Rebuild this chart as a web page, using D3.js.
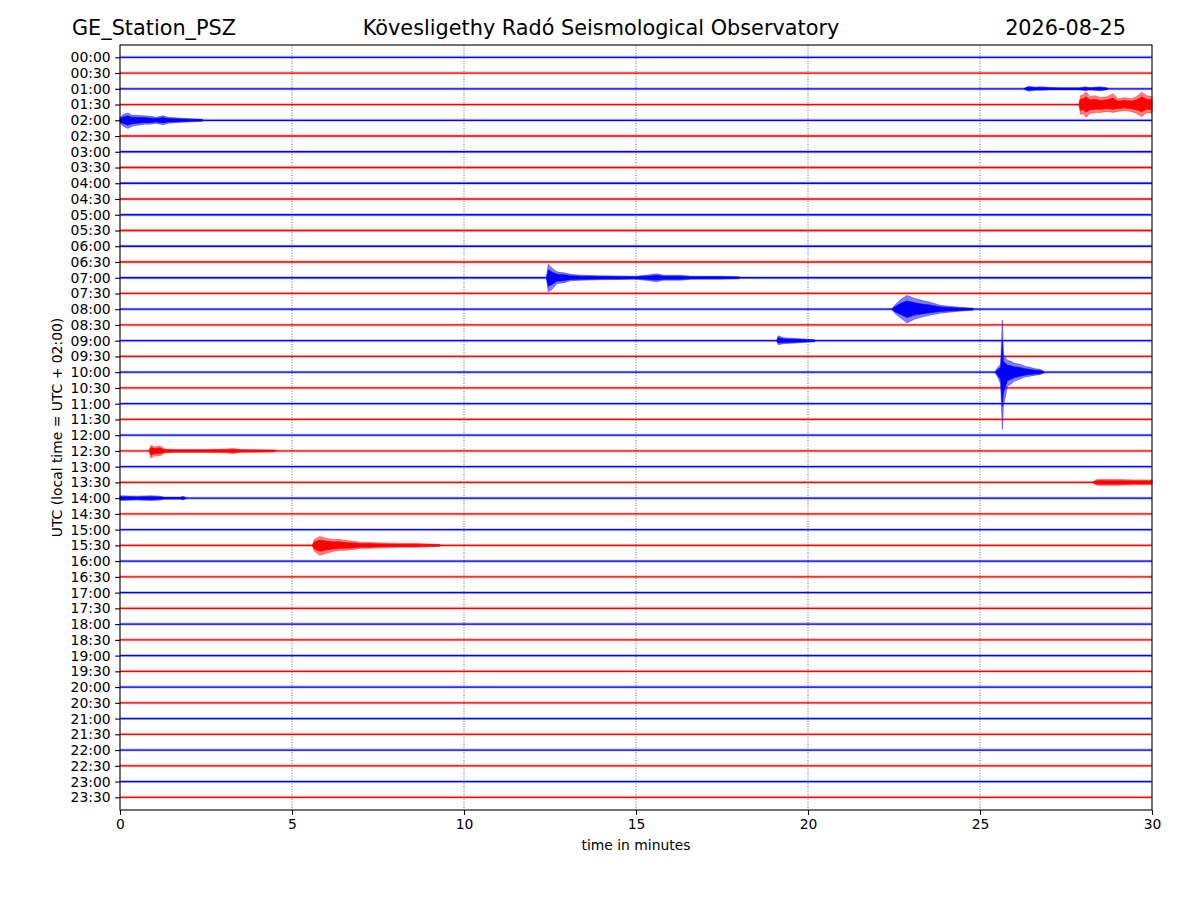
<!DOCTYPE html>
<html>
<head>
<meta charset="utf-8">
<script src="https://cdn.jsdelivr.net/npm/d3@7"></script>
<style>
  body { margin: 0; background: #fff; }
  svg { font-family: "DejaVu Sans", sans-serif; }
</style>
</head>
<body>
<svg id="chart" width="1200" height="900"></svg>
<script>
// Row labels (UTC start of each 30 minute line)
const rowLabels = [
  "00:00", "00:30", "01:00", "01:30", "02:00", "02:30", "03:00", "03:30",
  "04:00", "04:30", "05:00", "05:30", "06:00", "06:30", "07:00", "07:30",
  "08:00", "08:30", "09:00", "09:30", "10:00", "10:30", "11:00", "11:30",
  "12:00", "12:30", "13:00", "13:30", "14:00", "14:30", "15:00", "15:30",
  "16:00", "16:30", "17:00", "17:30", "18:00", "18:30", "19:00", "19:30",
  "20:00", "20:30", "21:00", "21:30", "22:00", "22:30", "23:00", "23:30"
];
const xTicks = [0, 5, 10, 15, 20, 25, 30];
const gridMinutes = [5, 10, 15, 20, 25];
const rowColors = ["#0000ff", "#ff0000"];

// Event envelopes: [minute, amplitude up, amplitude down]
// amplitude in counts, one row spacing = 16 counts
const ev0100 = [[26.3, 0.8, 0.8], [26.4, 2.5, 2.5], [26.6, 1.8, 1.5], [26.8, 2, 1.5], [27.0, 1.5, 1.2], [27.3, 1, 1],
  [27.9, 1, 1], [28.05, 2, 2], [28.2, 1.2, 1.2], [28.5, 2, 2], [28.7, 1, 1]];
const ev0130 = [[27.88, 1, 1], [27.92, 9, 10], [28.0, 10, 9], [28.08, 13, 13], [28.2, 8, 9], [28.35, 9, 8],
  [28.5, 7, 8], [28.7, 8, 7], [28.87, 11, 8], [29.0, 6, 7], [29.2, 7, 6], [29.4, 6, 7], [29.55, 8, 9],
  [29.7, 12.6, 12.4], [29.85, 9, 8], [30, 8, 9]];
const ev0200 = [[0, 3, 3], [0.1, 6, 6], [0.23, 7.3, 8.3], [0.35, 5, 6], [0.5, 5, 5], [0.7, 4.5, 4], [0.87, 4, 4],
  [1.05, 3, 3], [1.25, 4.5, 4.5], [1.4, 3, 3], [1.6, 2.5, 2.5], [1.8, 2, 2], [2.1, 1.5, 1.5], [2.4, 1, 1]];
const ev0700 = [[12.4, 1, 1], [12.45, 13.7, 14.3], [12.55, 10, 12], [12.7, 6, 6], [12.9, 5, 5], [13.1, 3.5, 3],
  [13.4, 2.5, 2.5], [13.95, 2, 2], [14.5, 1.8, 1.8], [15.0, 1.5, 1.5], [15.4, 3, 3], [15.6, 4, 4], [15.8, 2.5, 2.5],
  [16.3, 2.5, 2.5], [16.6, 1.5, 1.5], [17.5, 1.5, 1.5], [18.0, 1, 1]];
const ev0800 = [[22.45, 1, 1], [22.55, 5, 5], [22.7, 10, 9], [22.88, 14, 14], [23.1, 11, 10], [23.3, 9, 8],
  [23.55, 7, 6], [23.84, 4, 4], [24.1, 3, 3], [24.4, 2, 2], [24.8, 1, 1]];
const ev0900 = [[19.1, 1, 1], [19.13, 5, 4], [19.3, 3, 3], [19.77, 2, 2], [20.2, 1, 1]];
const ev1000 = [[25.45, 1, 1], [25.5, 4, 4], [25.6, 8, 12], [25.65, 53, 58], [25.68, 18, 34], [25.8, 12, 14],
  [25.9, 11, 12], [26.0, 9, 9], [26.16, 8, 7], [26.3, 6, 5], [26.45, 5, 4], [26.6, 3.5, 3], [26.74, 3, 2.5], [26.85, 1, 1]];
const ev1230 = [[0.85, 1, 1], [0.9, 5.7, 7.3], [1.0, 4, 5], [1.16, 5, 5], [1.3, 2, 2], [1.6, 1.5, 1.5],
  [2.5, 1.5, 1.5], [3.1, 2, 2], [3.3, 2.5, 2.5], [3.5, 1.5, 1.5], [4.5, 1, 1]];
const ev1330 = [[28.3, 1, 1], [28.4, 3, 3], [29.0, 3, 3], [29.5, 2.5, 2.5], [30, 2.5, 2.5]];
const ev1400 = [[0, 2.5, 2.5], [0.5, 2, 2], [0.9, 2.5, 2.5], [1.16, 2, 2], [1.3, 1, 1], [1.75, 1, 1],
  [1.83, 2, 2], [1.9, 1, 1]];
const ev1530 = [[5.6, 1, 1], [5.65, 6, 6], [5.81, 9, 10], [6.0, 7, 8], [6.2, 6, 6], [6.4, 6, 5], [6.55, 5, 5],
  [6.83, 4, 4], [7.0, 3, 3], [7.27, 3, 3], [7.56, 2.5, 2.5], [8.14, 2, 2], [8.58, 2, 2], [9.3, 1, 1]];

const events = [
  ["01:00", ev0100], ["01:30", ev0130], ["02:00", ev0200], ["07:00", ev0700],
  ["08:00", ev0800], ["09:00", ev0900], ["10:00", ev1000], ["12:30", ev1230],
  ["13:30", ev1330], ["14:00", ev1400], ["15:30", ev1530]
];

const svg = d3.select("#chart");
const plot = { left: 120, right: 1152, top: 45, bottom: 810 };

const x = d3.scaleLinear().domain([0, 30]).range([plot.left, plot.right]);
const y = d3.scalePoint().domain(rowLabels).range([57.3, 797.3]);
const rowStep = y.step();
const amp = d3.scaleLinear().domain([0, 16]).range([0, rowStep]);

// dotted vertical grid
svg.append("g")
  .selectAll("line")
  .data(gridMinutes)
  .join("line")
  .attr("x1", d => x(d)).attr("x2", d => x(d))
  .attr("y1", plot.top).attr("y2", plot.bottom)
  .attr("stroke", "#444")
  .attr("stroke-width", 0.8)
  .attr("stroke-dasharray", "1,1.6");

// traces: baseline noise band + solid core
const traces = svg.append("g");
rowLabels.forEach((lab, i) => {
  const col = rowColors[i % 2];
  traces.append("line")
    .attr("x1", x(0)).attr("x2", x(30))
    .attr("y1", y(lab)).attr("y2", y(lab))
    .attr("stroke", col).attr("stroke-width", 3).attr("stroke-opacity", 0.25);
  traces.append("line")
    .attr("x1", x(0)).attr("x2", x(30))
    .attr("y1", y(lab)).attr("y2", y(lab))
    .attr("stroke", col).attr("stroke-width", 1.3);
});

// events as filled envelopes: faint outer band, dense inner core
events.forEach(([lab, env]) => {
  const i = rowLabels.indexOf(lab);
  const base = y(lab);
  const col = rowColors[i % 2];
  const area = k => d3.area()
    .x(d => x(d[0]))
    .y0(d => base + amp(d[2]) * k)
    .y1(d => base - amp(d[1]) * k);
  traces.append("path")
    .attr("d", area(1)(env))
    .attr("fill", col).attr("fill-opacity", 0.5)
    .attr("stroke", col).attr("stroke-opacity", 0.5)
    .attr("stroke-width", 0.8)
    .attr("stroke-linejoin", "round");
  traces.append("path")
    .attr("d", area(0.6)(env))
    .attr("fill", col)
    .attr("stroke", col)
    .attr("stroke-width", 0.6);
});

// frame
svg.append("rect")
  .attr("x", plot.left).attr("y", plot.top)
  .attr("width", plot.right - plot.left).attr("height", plot.bottom - plot.top)
  .attr("fill", "none").attr("stroke", "#000").attr("stroke-width", 1.1);

// axes
const xAxis = svg.append("g")
  .attr("transform", `translate(0,${plot.bottom})`)
  .call(d3.axisBottom(x).tickValues(xTicks).tickSize(4.9).tickPadding(4.5));
const yAxis = svg.append("g")
  .attr("transform", `translate(${plot.left},0)`)
  .call(d3.axisLeft(y).tickSize(4.9).tickPadding(4.5));
[xAxis, yAxis].forEach(g => {
  g.select(".domain").remove();
  g.selectAll(".tick line").attr("stroke", "#000").attr("stroke-width", 1.1);
  g.selectAll(".tick text")
    .attr("fill", "#000")
    .style("font-family", "DejaVu Sans")
    .style("font-size", "13.9px");
});

// axis labels
svg.append("text")
  .attr("x", x(15)).attr("y", 850)
  .attr("text-anchor", "middle")
  .style("font-size", "13.9px")
  .text("time in minutes");
svg.append("text")
  .attr("transform", `translate(62,${(plot.top + plot.bottom) / 2}) rotate(-90)`)
  .attr("text-anchor", "middle")
  .style("font-size", "13.9px")
  .text("UTC (local time = UTC + 02:00)");

// titles
svg.append("text")
  .attr("x", 72).attr("y", 35)
  .style("font-size", "20.8px")
  .text("GE_Station_PSZ");
svg.append("text")
  .attr("x", 601).attr("y", 35)
  .attr("text-anchor", "middle")
  .style("font-size", "20.8px")
  .text("Kövesligethy Radó Seismological Observatory");
svg.append("text")
  .attr("x", 1126).attr("y", 35)
  .attr("text-anchor", "end")
  .style("font-size", "20.8px")
  .text("2026-08-25");
</script>
</body>
</html>
